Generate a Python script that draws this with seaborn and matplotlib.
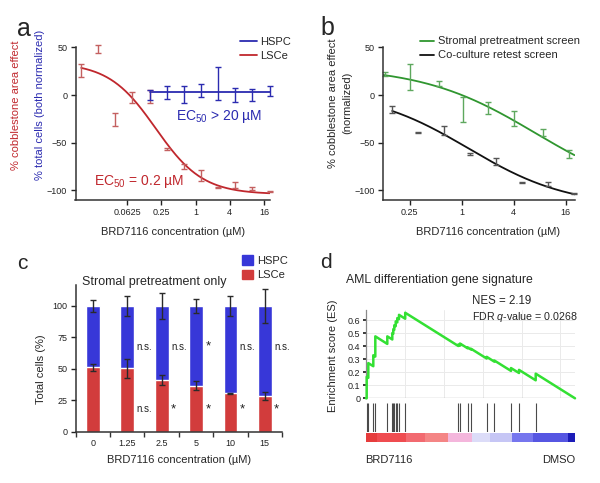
import numpy as np
import pandas as pd
import seaborn as sns
import matplotlib.pyplot as plt
from matplotlib.patches import Patch
from matplotlib.lines import Line2D

sns.set_theme(style="ticks")
plt.rcParams['font.family'] = ['Liberation Sans', 'DejaVu Sans']
plt.rcParams['mathtext.fontset'] = 'custom'
plt.rcParams['mathtext.rm'] = 'Liberation Sans'
plt.rcParams['mathtext.it'] = 'Liberation Sans:italic'
plt.rcParams['axes.linewidth'] = 1.1
plt.rcParams['axes.edgecolor'] = '#333333'

# ---- panel a: dose response, LSCe vs HSPC ----
lsce_conc = [0.0098, 0.0195, 0.039, 0.078, 0.156, 0.3125, 0.625, 1.25, 2.5, 5, 10, 20]
lsce_mean = [26, 48, -25.5, -2.5, -1.5, -57, -75, -84.5, -97, -94.5, -98, -101]
lsce_err = [7, 4, 7, 6, 7, 1, 3, 5.5, 0.5, 3, 1.5, 0.5]
hspc_conc = [0.156, 0.3125, 0.625, 1.25, 2.5, 5, 10, 20]
hspc_mean = [0.3, 2.5, 0.5, 5, 12, 0, 0, 4]
hspc_err = [5, 7, 9, 7, 17, 7, 6.5, 5.5]
hspc_fit_level = 3.5
lsce_fit = (34, -104, 0.2, 1.05)   # top, bottom, EC50, hill

# ---- panel b: two screens ----
strom_conc = [0.129, 0.25, 0.55, 1.04, 2.03, 4.03, 8.7, 17.6]
strom_mean = [22, 19, 12, -15, -13.5, -24.5, -39.5, -62]
strom_err = [2, 14, 2.5, 13, 6.5, 8, 3.5, 4.5]
strom_fit = (30, -110, 7.2, 0.658)
cocul_conc = [0.156, 0.3125, 0.625, 1.25, 2.5, 5, 10, 20]
cocul_mean = [-15, -39, -37, -62, -70, -91.5, -93, -103]
cocul_err = [3.5, 0.5, 4.5, 1, 3.5, 0.5, 2, 0.5]
cocul_fit = (5, -117, 1.2, 0.75)

# ---- panel c: stacked bars ----
c_conc = ['0', '1.25', '2.5', '5', '10', '15']
c_lsce = [51.2, 50.4, 41.1, 36.6, 30.5, 28.4]
c_lsce_err = [2.8, 7.6, 4, 3.6, 0.5, 2.9]
c_total = [100, 100, 100, 100, 100, 100]
c_hspc_err = [4.6, 8.2, 10, 5.3, 8.2, 13.5]
c_sig_top = ['', 'n.s.', 'n.s.', '*', 'n.s.', 'n.s.']
c_sig_bottom = ['', 'n.s.', '*', '*', '*', '*']

# ---- panel d: GSEA ----
n_genes = 21500
es_rank = [0, 72, 72, 237, 237, 751, 751, 957, 957, 2191, 2191, 2705, 2705,
           2808, 2808, 2911, 2911, 3055, 3055, 3220, 3220, 3395, 3395, 4033, 4033,
           9495, 9495, 9670, 9670, 10462, 10462, 10801, 10801, 12416, 12416,
           13198, 13198, 14916, 14916, 15739, 15739, 17457, 17457, 21500]
es_score = [0, 0, 0.165, 0.157, 0.27, 0.246, 0.33, 0.32, 0.475, 0.417, 0.475, 0.451, 0.50,
            0.495, 0.53, 0.525, 0.56, 0.553, 0.59, 0.582, 0.615, 0.607, 0.64, 0.61, 0.656,
            0.401, 0.412, 0.404, 0.42, 0.383, 0.39, 0.374, 0.38, 0.305, 0.318,
            0.281, 0.29, 0.21, 0.232, 0.194, 0.218, 0.138, 0.189, 0.0]
hit_ranks = [72, 237, 751, 957, 2191, 2705, 2808, 2911, 3055, 3220, 3395, 4033,
             9495, 9670, 10462, 10801, 12416, 13198, 14916, 15739, 17457]
bar_edges = [0, 1100, 4115, 6070, 8466, 10873, 12756, 14988, 17210, 20811, 21500]
bar_colors = ['#e63c3c', '#ef4c50', '#f26a70', '#f48585', '#f4b6dc', '#dcdcf8',
              '#c6c6f5', '#7676ee', '#5656e2', '#1c1cb8']

RED = '#c0272d'
RED_ERR = '#c46060'
BLUE = '#2b2bb0'
GREEN = '#2f962f'
GREEN_ERR = '#5ea85e'
C_BLUE = '#3737d8'
C_RED = '#d23c3c'
ES_GREEN = '#33e033'

fig = plt.figure(figsize=(6, 4.83), dpi=100)
W, H = 600, 483


def px_axes(l, t, r, b):
    return fig.add_axes([l / W, 1 - b / H, (r - l) / W, (b - t) / H])


def fig_text(x, y, s, **kw):
    return fig.text(x / W, 1 - y / H, s, **kw)


def four_pl(x, p):
    top, bottom, ec50, hill = p
    return bottom + (top - bottom) / (1 + (x / ec50) ** hill)


def style_dose_axes(ax, xlim, ticks, labels):
    ax.set_xscale('log', base=2)
    ax.set_xlim(*xlim)
    ax.set_ylim(-110, 50)
    ax.set_xticks(ticks)
    ax.set_xticklabels(labels)
    ax.minorticks_off()
    ax.set_yticks([50, 0, -50, -100])
    ax.set_yticklabels(['50', '0', '\u221250', '\u2212100'])
    ax.tick_params(labelsize=6.5, length=3.5, width=1, pad=2.5, colors='#222222')
    ax.set_xlabel('')
    ax.set_ylabel('')
    sns.despine(ax=ax)


# panel a
ax = px_axes(75.5, 47.3, 270, 200)
xs = np.geomspace(lsce_conc[0], lsce_conc[-1], 200)
sns.lineplot(x=xs, y=four_pl(xs, lsce_fit), ax=ax, color=RED, lw=1.3)
sns.lineplot(x=[hspc_conc[0], hspc_conc[-1]], y=[hspc_fit_level] * 2, ax=ax, color=BLUE, lw=1.3)
ax.errorbar(lsce_conc, lsce_mean, yerr=lsce_err, fmt='none', ecolor=RED_ERR,
            elinewidth=1, capsize=2.5, clip_on=False)
ax.errorbar(hspc_conc, hspc_mean, yerr=hspc_err, fmt='none', ecolor=BLUE,
            elinewidth=1, capsize=2.5, clip_on=False)
style_dose_axes(ax, (0.00777, 20.4), [0.0625, 0.25, 1, 4, 16], ['0.0625', '0.25', '1', '4', '16'])
ax.text(2.59, -23, 'EC$_{50}$ > 20 \u00b5M', color=BLUE, fontsize=10, ha='center', va='center')
ax.text(0.1015, -91, 'EC$_{50}$ = 0.2 \u00b5M', color=RED, fontsize=10, ha='center', va='center')
ax.legend(handles=[Line2D([], [], color=BLUE, lw=1.3), Line2D([], [], color=RED, lw=1.3)],
          labels=['HSPC', 'LSCe'], loc='upper left', bbox_to_anchor=(240 / W, 1 - 37 / H),
          bbox_transform=fig.transFigure, frameon=False, fontsize=8, handlelength=1.5,
          handletextpad=0.3, labelspacing=0.35, borderpad=0, borderaxespad=0)
fig_text(15.8, 105, '% cobblestone area effect', rotation=90, color=RED, fontsize=8,
         ha='center', va='center')
fig_text(40.5, 105, '% total cells (both normalized)', rotation=90, color=BLUE, fontsize=8,
         ha='center', va='center')
fig_text(173, 231.5, 'BRD7116 concentration (\u00b5M)', fontsize=8, ha='center', va='center')
fig_text(16.5, 35.5, 'a', fontsize=18, ha='left', va='baseline')

# panel b
ax = px_axes(382.7, 47.3, 575, 200)
xs = np.geomspace(0.121, 20.3, 200)
sns.lineplot(x=xs, y=four_pl(xs, strom_fit), ax=ax, color=GREEN, lw=1.3)
xs = np.geomspace(cocul_conc[0], cocul_conc[-1] * 1.03, 200)
sns.lineplot(x=xs, y=four_pl(xs, cocul_fit), ax=ax, color='#111111', lw=1.3)
ax.errorbar(strom_conc, strom_mean, yerr=strom_err, fmt='none', ecolor=GREEN_ERR,
            elinewidth=1, capsize=2.5, clip_on=False)
ax.errorbar(cocul_conc, cocul_mean, yerr=cocul_err, fmt='none', ecolor='#555555',
            elinewidth=1, capsize=2.5, clip_on=False)
style_dose_axes(ax, (0.121, 20.6), [0.25, 1, 4, 16], ['0.25', '1', '4', '16'])
ax.legend(handles=[Line2D([], [], color=GREEN, lw=1.3), Line2D([], [], color='#111111', lw=1.3)],
          labels=['Stromal pretreatment screen', 'Co-culture retest screen'], loc='upper left',
          bbox_to_anchor=(420 / W, 1 - 36.5 / H), bbox_transform=fig.transFigure, frameon=False,
          fontsize=8, handlelength=1.3, handletextpad=0.3, labelspacing=0.35, borderpad=0,
          borderaxespad=0)
fig_text(333, 103, '% cobblestone area effect', rotation=90, fontsize=8, ha='center', va='center')
fig_text(347, 103, '(normalized)', rotation=90, fontsize=8, ha='center', va='center')
fig_text(488, 231.5, 'BRD7116 concentration (\u00b5M)', fontsize=8, ha='center', va='center')
fig_text(320, 35, 'b', fontsize=18, ha='left', va='baseline')

# panel c
ax = px_axes(75.7, 285, 282, 431.7)
df_c = pd.DataFrame({'conc': c_conc, 'total': c_total, 'lsce': c_lsce})
sns.barplot(data=df_c, x='conc', y='total', color=C_BLUE, width=0.4, saturation=1,
            errorbar=None, ax=ax)
sns.barplot(data=df_c, x='conc', y='lsce', color=C_RED, width=0.4, saturation=1,
            errorbar=None, ax=ax)
pos = np.arange(len(c_conc))
ax.errorbar(pos, c_total, yerr=c_hspc_err, fmt='none', ecolor='#2a2a2a', elinewidth=1,
            capsize=2.5, clip_on=False)
ax.errorbar(pos, c_lsce, yerr=c_lsce_err, fmt='none', ecolor='#2a2a2a', elinewidth=1,
            capsize=2.5)
for i in pos:
    for lab, yv in ((c_sig_top[i], 67.6), (c_sig_bottom[i], 18)):
        if lab:
            ax.text(i + 0.27, yv, lab, fontsize=7 if lab == 'n.s.' else 9.5,
                    ha='left', va='center', color='#222222', clip_on=False)
ax.set_xlim(-0.5, 5.5)
ax.set_ylim(0, 116.7)
ax.set_yticks([0, 25, 50, 75, 100])
ax.set_xticks(np.arange(-0.5, 5.6, 1), minor=True)
ax.tick_params(axis='x', which='major', length=0, pad=5)
ax.tick_params(axis='x', which='minor', length=3.5, width=1, colors='#333333')
ax.tick_params(labelsize=6.5, colors='#222222')
ax.tick_params(axis='y', length=3.5, width=1, pad=2.5)
ax.set_xlabel('')
ax.set_ylabel('')
sns.despine(ax=ax)
ax.set_title('Stromal pretreatment only', fontsize=9, loc='left', pad=0, x=0.03, y=1.0)
ax.legend(handles=[Patch(color=C_BLUE), Patch(color=C_RED)], labels=['HSPC', 'LSCe'],
          loc='upper left', bbox_to_anchor=(241.5 / W, 1 - 255.5 / H),
          bbox_transform=fig.transFigure, frameon=False, fontsize=8, handlelength=1.05,
          handleheight=0.9, handletextpad=0.35, labelspacing=0.35, borderpad=0, borderaxespad=0)
fig_text(40.5, 369, 'Total cells (%)', rotation=90, fontsize=8, ha='center', va='center')
fig_text(179, 460, 'BRD7116 concentration (\u00b5M)', fontsize=8, ha='center', va='center')
fig_text(17, 269, 'c', fontsize=15, ha='left', va='baseline')

# panel d
ax = px_axes(366, 310, 575, 398.3)
for g in range(4000, n_genes, 4000):
    ax.axvline(g, color='#eaeaea', lw=0.7, zorder=0)
for yv in [0.1, 0.2, 0.3, 0.4, 0.5, 0.6]:
    ax.axhline(yv, color='#eaeaea', lw=0.7, zorder=0)
ax.axhline(0, color='#9a9a9a', lw=0.9, zorder=1)
sns.lineplot(x=es_rank, y=es_score, ax=ax, color=ES_GREEN, lw=1.8, sort=False,
             estimator=None, zorder=3)
ax.lines[-1].set_clip_on(False)
ax.set_xlim(0, n_genes)
ax.set_ylim(0, 0.677)
ax.set_yticks([0, 0.1, 0.2, 0.3, 0.4, 0.5, 0.6])
ax.set_yticklabels(['0', '0.1', '0.2', '0.3', '0.4', '0.5', '0.6'])
ax.set_xticks([])
ax.tick_params(axis='y', labelsize=6.5, length=2, pad=2, colors='#222222')
for s in ['top', 'right', 'bottom']:
    ax.spines[s].set_visible(False)
ax.spines['left'].set_color('#8a8a8a')
ax.spines['left'].set_linewidth(0.9)
ax.set_xlabel('')
ax.set_ylabel('')

axh = px_axes(366, 403.3, 575, 431.7)
axh.vlines(hit_ranks, 0, 1, color='#4a4a4a', lw=0.8)
axh.set_xlim(0, n_genes)
axh.set_ylim(0, 1)
axh.axis('off')

axc = px_axes(366, 433.3, 575, 441.7)
axc.bar(bar_edges[:-1], [1] * len(bar_colors), width=np.diff(bar_edges), align='edge',
        color=bar_colors, linewidth=0)
axc.set_xlim(0, n_genes)
axc.set_ylim(0, 1)
axc.axis('off')

fig_text(346.5, 280, 'AML differentiation gene signature', fontsize=8.8, ha='left', va='center')
fig_text(471.5, 301, 'NES = 2.19', fontsize=8.3, ha='left', va='center')
fig_text(471.5, 317.5, 'FDR $q$-value = 0.0268', fontsize=7.7, ha='left', va='center')
fig_text(333.5, 356, 'Enrichment score (ES)', rotation=90, fontsize=8, ha='center', va='center')
fig_text(365, 460, 'BRD7116', fontsize=8, ha='left', va='center')
fig_text(575, 460, 'DMSO', fontsize=8, ha='right', va='center')
fig_text(320, 268.5, 'd', fontsize=15, ha='left', va='baseline')

fig.savefig('out.png', dpi=100)
